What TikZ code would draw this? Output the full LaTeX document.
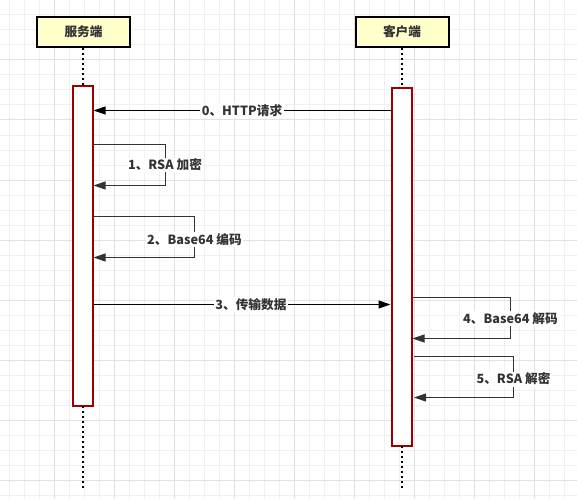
\documentclass[tikz,border=0pt]{standalone}
\usepackage{fontspec}
\setmainfont{Noto Sans CJK SC}
\usetikzlibrary{arrows.meta}
\definecolor{headfill}{HTML}{FFFFCC}
\definecolor{actred}{HTML}{990000}
\definecolor{txt}{HTML}{333333}
\definecolor{gridmin}{HTML}{F0F0F0}
\definecolor{gridmaj}{HTML}{E2E2E2}
\tikzset{
  gridminor/.style={draw=gridmin, line width=0.75pt},
  gridmajor/.style={draw=gridmaj, line width=0.75pt},
  head/.style={draw=black, line width=1.5pt, fill=headfill, minimum width=69.75pt, minimum height=22.5pt, inner sep=0pt, font=\fontsize{9.5pt}{11pt}\selectfont\bfseries, text=txt},
  actbox/.style={draw=actred, line width=1.5pt, fill=white, minimum width=15pt, inner sep=0pt},
  life/.style={draw=black, line width=1.5pt, dash pattern=on 1.5pt off 2.25pt},
  msg/.style={draw=black, line width=0.75pt, -{Triangle[length=9pt,width=6pt]}},
  selfmsg/.style={draw=txt, line width=0.75pt, -{Triangle[length=9pt,width=6pt]}},
  lbl/.style={fill=white, inner xsep=1pt, inner ysep=1pt, font=\fontsize{9.5pt}{11pt}\selectfont\bfseries, text=txt}
}
\begin{document}
\begin{tikzpicture}[x=0.75pt,y=-0.75pt]
\useasboundingbox (0,0) rectangle (577,499);
\fill[white] (0,0) rectangle (577,499);
% grid
\foreach \i in {9,24,...,576} \draw[gridminor] (\i,0) -- (\i,499);
\foreach \j in {0,15,...,499} \draw[gridminor] (0,\j) -- (577,\j);
\foreach \i in {54,114,...,576} \draw[gridmajor] (\i,0) -- (\i,499);
\foreach \j in {0,60,...,499} \draw[gridmajor] (0,\j) -- (577,\j);
% headers
\node[head] (srvhead) at (83.5,32) {服务端};
\node[head] (clihead) at (402,32) {客户端};
% activation boxes
\node[actbox, minimum height=240pt] (srvact) at (82.5,246) {};
\node[actbox, minimum height=268.5pt] (cliact) at (401.5,267) {};
% lifeline ends
\coordinate (srvend) at (83,488);
\coordinate (cliend) at (402,488);
\draw[life] (srvhead.south -| 83,0) -- (83,86);
\draw[life] (clihead.south -| 402,0) -- (402,88);
\draw[life] (83,406) -- (srvend);
\draw[life] (402,446) -- (cliend);
% message 0
\draw[msg] (cliact.west |- 0,110.5) -- node[lbl]{0、HTTP请求} (srvact.east |- 0,110.5);
% message 1
\coordinate (s1a) at (srvact.east |- 0,144.5);
\coordinate (s1b) at (srvact.east |- 0,185.5);
\draw[selfmsg] (s1a) -- (165,144.5) -- node[lbl]{1、RSA 加密} (165,185.5) -- (s1b);
% message 2
\coordinate (s2a) at (srvact.east |- 0,216.5);
\coordinate (s2b) at (srvact.east |- 0,257.5);
\draw[selfmsg] (s2a) -- (194.5,216.5) -- node[lbl, pos=0.57]{2、Base64 编码} (194.5,257.5) -- (s2b);
% message 3
\draw[msg] (srvact.east |- 0,304.5) -- node[lbl, pos=0.53]{3、传输数据} (cliact.west |- 0,304.5);
% message 4
\coordinate (c4a) at (cliact.east |- 0,297.5);
\coordinate (c4b) at (cliact.east |- 0,338.5);
\draw[selfmsg] (c4a) -- (510.5,297.5) -- node[lbl, pos=0.52]{4、Base64 解码} (510.5,338.5) -- (c4b);
% message 5
\coordinate (c5a) at (414,356.5);
\coordinate (c5b) at (414,397.5);
\draw[selfmsg] (c5a) -- (513.5,356.5) -- node[lbl, pos=0.55]{5、RSA 解密} (513.5,397.5) -- (c5b);
\end{tikzpicture}
\end{document}
